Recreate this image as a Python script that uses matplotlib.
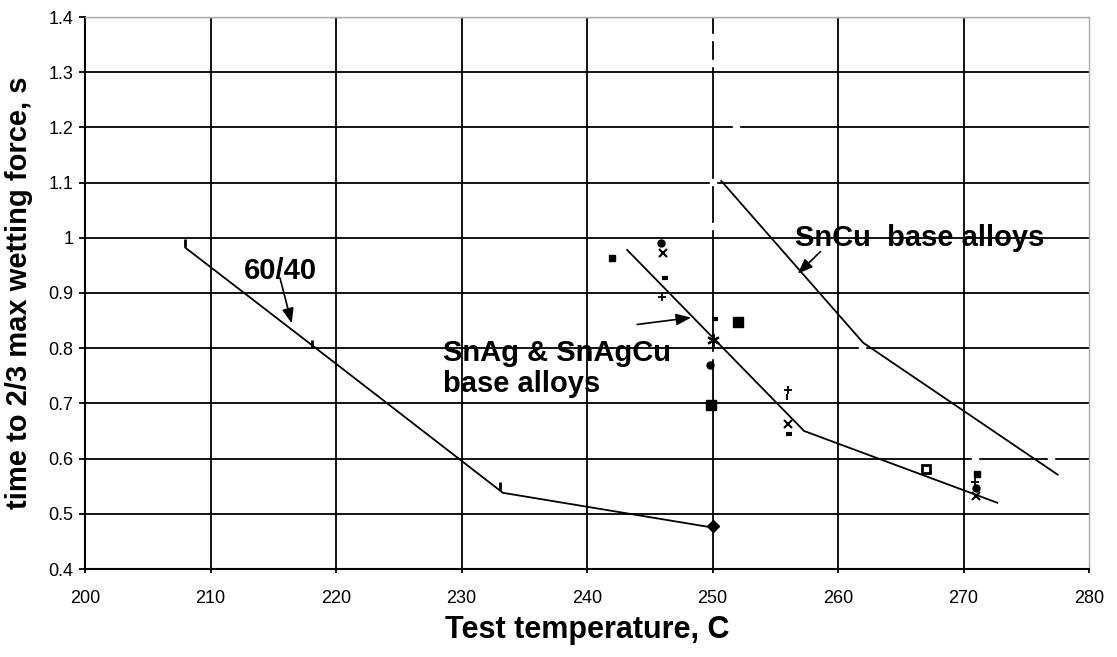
import matplotlib
matplotlib.use("Agg")
import matplotlib.pyplot as plt
from matplotlib.ticker import FuncFormatter

plt.rcParams['font.family'] = ['Liberation Sans', 'DejaVu Sans']

# 60/40 solder: trend line and markers
pb_line_x = [208, 218, 233.3, 250.3]
pb_line_y = [0.982, 0.807, 0.538, 0.474]
pb_tick_x = [208, 218.1, 233.1]
pb_tick_y = [0.99, 0.807, 0.55]
pb_diam_x = [250]
pb_diam_y = [0.477]

# SnAg & SnAgCu trend line
snag_line_x = [243.2, 257.3, 272.7]
snag_line_y = [0.978, 0.65, 0.52]

# SnCu trend line
sncu_line_x = [250.7, 262, 277.5]
sncu_line_y = [1.103, 0.81, 0.571]

# Individual alloy points
sq_small_x = [242, 271.1]
sq_small_y = [0.964, 0.572]
circ_x = [245.9, 249.8, 271]
circ_y = [0.991, 0.770, 0.546]
xmark_x = [246.05, 256, 271]
xmark_y = [0.973, 0.662, 0.533]
dash_x = [246.2, 250.2, 256.1]
dash_y = [0.928, 0.852, 0.645]
plus_x = [246, 256, 270.9]
plus_y = [0.892, 0.725, 0.558]
sq_big_x = [252, 249.9]
sq_big_y = [0.848, 0.698]
star_x = [250.05]
star_y = [0.814]
open_sq_x = [267]
open_sq_y = [0.582]
tick2_x = [255.9]
tick2_y = [0.712]

# invisible (white) series that leave gaps in the grid
white_x = [250, 250, 250, 250, 250, 251.9, 261.9, 270.9, 277.0]
white_y = [1.364, 1.317, 1.101, 1.021, 0.788, 1.2, 0.8, 0.6, 0.6]

xticks = [200, 210, 220, 230, 240, 250, 260, 270, 280]
yticks = [0.4, 0.5, 0.6, 0.7, 0.8, 0.9, 1.0, 1.1, 1.2, 1.3, 1.4]

fig = plt.figure(figsize=(11.17, 6.57), dpi=100)
ax = fig.add_axes([85/1117, 1-569/657, (1089-85)/1117, (569-17)/657])
ax.set_xlim(200, 280)
ax.set_ylim(0.4, 1.4)
ax.set_xticks(xticks)
ax.set_yticks(yticks)
ax.yaxis.set_major_formatter(FuncFormatter(lambda v, p: f"{v:g}"))

for xv in xticks[1:-1]:
    ax.axvline(xv, color='black', lw=1.3, zorder=1)
for yv in yticks[1:-1]:
    ax.axhline(yv, color='black', lw=1.3, zorder=1)
ax.axhline(1.4, color='#999999', lw=1.0, zorder=1)

for s in ['left', 'bottom']:
    ax.spines[s].set_color('black')
    ax.spines[s].set_linewidth(1.5)
for s in ['top', 'right']:
    ax.spines[s].set_color('#aaaaaa')
    ax.spines[s].set_linewidth(1.0)

ax.tick_params(axis='x', length=3, width=1.3, pad=12, labelsize=13, direction='out')
ax.tick_params(axis='y', length=4.5, width=1.3, pad=4, labelsize=13, direction='out')

ax.plot(white_x, white_y, ls='none', marker='s', ms=5, color='white', zorder=2)

lc = 'black'
ax.plot(pb_line_x, pb_line_y, color=lc, lw=1.3, zorder=3)
ax.plot(snag_line_x, snag_line_y, color=lc, lw=1.3, zorder=3)
ax.plot(sncu_line_x, sncu_line_y, color=lc, lw=1.3, zorder=3)

ax.plot(pb_tick_x, pb_tick_y, ls='none', marker='|', ms=6, mew=2, color=lc, zorder=4)
ax.plot(pb_diam_x, pb_diam_y, ls='none', marker='D', ms=6, color=lc, zorder=4)

ax.plot(sq_small_x, sq_small_y, ls='none', marker='s', ms=4.5, color=lc, zorder=4)
ax.plot(circ_x, circ_y, ls='none', marker='o', ms=5, color=lc, zorder=4)
ax.plot(xmark_x, xmark_y, ls='none', marker='x', ms=6, mew=1.5, color=lc, zorder=4)
ax.plot(dash_x, dash_y, ls='none', marker='_', ms=5, mew=3, color=lc, zorder=4)
ax.plot(plus_x, plus_y, ls='none', marker='+', ms=6, mew=1.3, color=lc, zorder=4)
ax.plot(sq_big_x, sq_big_y, ls='none', marker='s', ms=7, color=lc, zorder=4)
ax.plot(star_x, star_y, ls='none', marker=(6, 2, 0), ms=9, mew=1.5, color=lc, zorder=4)
ax.plot(open_sq_x, open_sq_y, ls='none', marker='s', ms=6, mew=2, mfc='white', mec=lc, zorder=4)
ax.plot(tick2_x, tick2_y, ls='none', marker='|', ms=5, mew=1.5, color=lc, zorder=4)

# annotations
fs = 21
arrow = dict(arrowstyle='-|>,head_length=0.9,head_width=0.35',
             color='black', lw=1.2, shrinkA=0, shrinkB=0)
ax.text(215.6, 0.94, "60/40", fontsize=fs, fontweight='bold', ha='center', va='center')
ax.annotate("", xy=(216.47, 0.845), xytext=(215.54, 0.927), arrowprops=arrow)
fig.text(443/1117, 1-353/657, "SnAg & SnAgCu", fontsize=fs, fontweight='bold',
         ha='left', va='center')
fig.text(443/1117, 1-384/657, "base alloys", fontsize=fs, fontweight='bold',
         ha='left', va='center')
ax.annotate("", xy=(248.3, 0.8555), xytext=(244.0, 0.843), arrowprops=arrow)
fig.text(795/1117, 1-238/657, "SnCu  base alloys", fontsize=fs, fontweight='bold',
         ha='left', va='center')
ax.annotate("", xy=(256.8, 0.935), xytext=(258.6, 0.975), arrowprops=arrow)

fig.text(587/1117, 1-630/657, "Test temperature, C", fontsize=22, fontweight='bold',
         ha='center', va='center')
fig.text(19/1117, 1-293/657, "time to 2/3 max wetting force, s", fontsize=21,
         fontweight='bold', ha='center', va='center', rotation=90)

fig.savefig("out.png", dpi=100)
